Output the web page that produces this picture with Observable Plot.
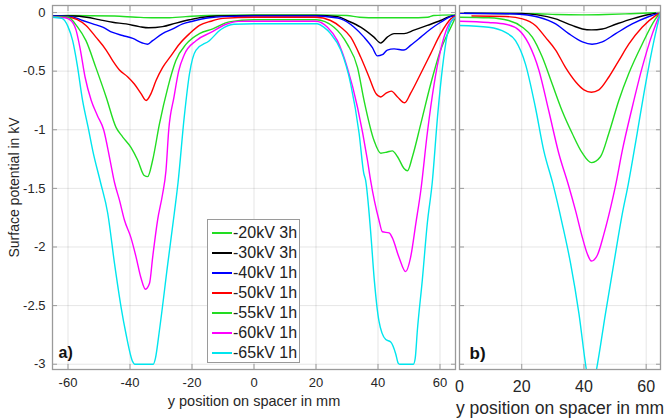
<!DOCTYPE html>
<html><head><meta charset="utf-8">
<script src="https://cdn.jsdelivr.net/npm/d3@7"></script>
<script src="https://cdn.jsdelivr.net/npm/@observablehq/plot@0.6"></script>
<style>
html,body{margin:0;padding:0;background:#fff;overflow:hidden;}
#wrap{position:relative;width:664px;height:419px;overflow:hidden;font-family:"Liberation Sans",Arial,sans-serif;}
#wrap svg{position:absolute;top:0;overflow:visible;}
#legend{position:absolute;left:207px;top:219px;width:93px;height:144px;box-sizing:border-box;border:1px solid #9a9a9a;background:#fff;}
.lrow{position:absolute;left:0;height:18px;line-height:18px;font-size:16px;color:#222;white-space:nowrap;}
.lsw{position:absolute;left:4px;top:8px;width:20px;height:1.6px;}
.ltx{position:absolute;left:25px;top:0;}
</style></head><body><div id="wrap"></div><script>
// ---- data ----
const seriesNames = ["-20kV 3h", "-30kV 3h", "-40kV 1h", "-50kV 1h", "-55kV 1h", "-60kV 1h", "-65kV 1h"];
const seriesColors = ["#22dd22", "#000000", "#0000ff", "#ff0000", "#22dd22", "#ff00ff", "#00e5ee"];
const panelLabels = ["a)", "b)"];
const yTicks = [-3, -2.5, -2, -1.5, -1, -0.5, 0];
const xTicksA = [-60, -40, -20, 0, 20, 40, 60];
const xTicksB = [0, 20, 40, 60];
const xLabel = "y position on spacer in mm";
const yLabel = "Surface potential in kV";

// panel a) measured (y position mm, potential kV)
const a20 = [[-65,-0.03],[-60,-0.025],[-45,-0.03],[-38,-0.04],[-33,-0.045],[-28,-0.045],[-22,-0.035],[-15,-0.025],[0,-0.02],[20,-0.02],[30,-0.025],[34,-0.04],[40,-0.045],[50,-0.045],[56,-0.04],[58,-0.025],[65,-0.02]];
const a30 = [[-65,-0.03],[-58,-0.03],[-54,-0.04],[-50,-0.06],[-45.6,-0.083],[-41.3,-0.097],[-37,-0.12],[-34,-0.13],[-29.5,-0.12],[-25.2,-0.09],[-20.8,-0.062],[-16.5,-0.04],[-12,-0.03],[0,-0.025],[20,-0.025],[27,-0.035],[30,-0.068],[34.4,-0.125],[38.7,-0.21],[40.9,-0.26],[43,-0.21],[45.2,-0.18],[48.4,-0.18],[51.6,-0.15],[55.9,-0.11],[60.2,-0.068],[63,-0.035],[65,-0.025]];
const a40 = [[-65,-0.03],[-59,-0.035],[-55.3,-0.068],[-52,-0.097],[-48.8,-0.125],[-45.6,-0.17],[-42.4,-0.196],[-39.1,-0.22],[-36,-0.26],[-34.3,-0.27],[-32.7,-0.24],[-29.5,-0.18],[-26.2,-0.14],[-23,-0.097],[-19.8,-0.074],[-14.4,-0.045],[-10,-0.035],[0,-0.03],[20,-0.03],[25,-0.04],[28,-0.054],[32.3,-0.125],[35.5,-0.21],[38.2,-0.30],[39.8,-0.37],[41.4,-0.36],[43,-0.32],[45.2,-0.31],[48.4,-0.32],[50.5,-0.28],[53.8,-0.21],[57,-0.14],[60.2,-0.083],[63,-0.04],[65,-0.025]];
const a50 = [[-65,-0.035],[-60,-0.04],[-57,-0.06],[-54.2,-0.11],[-51,-0.21],[-47.7,-0.32],[-45.6,-0.41],[-43.4,-0.49],[-40.7,-0.55],[-38.6,-0.61],[-36.5,-0.69],[-34.8,-0.75],[-33.2,-0.69],[-31.6,-0.58],[-29.5,-0.47],[-26.8,-0.37],[-24.1,-0.27],[-20.8,-0.18],[-17.6,-0.11],[-13.9,-0.074],[-10,-0.05],[0,-0.04],[20,-0.04],[24.7,-0.068],[28,-0.125],[31.2,-0.21],[34.4,-0.38],[37.1,-0.55],[39.3,-0.69],[40.9,-0.72],[42.5,-0.69],[44.3,-0.67],[46.3,-0.72],[48.6,-0.77],[50.5,-0.69],[53.8,-0.52],[57,-0.35],[60.2,-0.18],[63.5,-0.054],[65,-0.03]];
const a55 = [[-65,-0.035],[-60,-0.04],[-57,-0.12],[-54.2,-0.24],[-51,-0.47],[-47.7,-0.72],[-44.5,-0.98],[-42.4,-1.06],[-39.7,-1.15],[-37.5,-1.26],[-35.4,-1.39],[-34.3,-1.40],[-32.7,-1.26],[-30.5,-0.95],[-27.8,-0.64],[-25.2,-0.41],[-21.9,-0.27],[-17.6,-0.18],[-13.3,-0.14],[-8,-0.08],[0,-0.062],[20,-0.062],[25.8,-0.125],[30.1,-0.27],[33.4,-0.47],[35.5,-0.75],[38.7,-1.09],[40.9,-1.20],[43,-1.19],[44.6,-1.18],[46.3,-1.23],[48.4,-1.33],[49.5,-1.35],[51.1,-1.23],[53.8,-0.95],[57,-0.61],[60.2,-0.32],[63.5,-0.125],[65,-0.04]];
const a60 = [[-65,-0.04],[-61,-0.045],[-59,-0.07],[-57.4,-0.15],[-56,-0.32],[-54.5,-0.55],[-52.5,-0.75],[-50.5,-0.88],[-48.5,-1.0],[-46.5,-1.25],[-45,-1.45],[-43.4,-1.60],[-41.8,-1.77],[-39.7,-1.92],[-38,-2.09],[-36.5,-2.26],[-35,-2.36],[-33.7,-2.31],[-32.7,-2.09],[-31.1,-1.77],[-29.5,-1.55],[-28.4,-1.35],[-27.5,-1.0],[-25.8,-0.72],[-24.3,-0.5],[-22.5,-0.36],[-18.7,-0.24],[-13.9,-0.17],[-9,-0.1],[-5,-0.075],[0,-0.074],[20,-0.074],[23.7,-0.125],[26.9,-0.24],[30.1,-0.47],[33.4,-0.81],[36.6,-1.26],[37.6,-1.43],[40.3,-1.77],[41.4,-1.87],[43.6,-1.88],[44.6,-1.92],[46.8,-2.09],[48.9,-2.21],[50.5,-2.09],[52.2,-1.80],[53.8,-1.52],[55.9,-1.03],[58.1,-0.61],[60.2,-0.32],[62.4,-0.125],[65,-0.04]];
const a65 = [[-65,-0.04],[-62,-0.05],[-60,-0.12],[-58.5,-0.24],[-57,-0.45],[-55.3,-0.75],[-53.5,-0.98],[-52,-1.18],[-49.5,-1.45],[-47.2,-1.71],[-45,-2.14],[-42.9,-2.51],[-41.3,-2.74],[-39.1,-2.98],[-38.5,-3.0],[-32.5,-3.0],[-31.8,-2.95],[-30.5,-2.71],[-27.8,-2.14],[-25.7,-1.71],[-24.5,-1.45],[-22.5,-0.89],[-20.8,-0.52],[-18.7,-0.32],[-14.4,-0.24],[-10.7,-0.145],[-6.5,-0.10],[0,-0.096],[20.4,-0.096],[22.5,-0.125],[24.7,-0.18],[28,-0.32],[31.2,-0.61],[33.9,-1.03],[35.4,-1.37],[36,-1.43],[37.6,-1.86],[38.8,-2.28],[40.3,-2.63],[42.5,-2.79],[44.1,-2.81],[45.7,-2.91],[46.5,-2.99],[47,-3.0],[51.4,-3.0],[52,-2.95],[52.7,-2.71],[54.3,-2.28],[55.9,-1.80],[57.5,-1.45],[59.2,-0.89],[60.8,-0.47],[62.4,-0.18],[64,-0.06],[65,-0.04]];

// panel b) simulated (y position mm, potential kV)
const b20 = [[0,-0.006],[25,-0.01],[31,-0.017],[40,-0.02],[47,-0.017],[55,-0.01],[64.6,0]];
const b30 = [[0,-0.006],[20,-0.008],[25,-0.02],[30.9,-0.054],[36.2,-0.11],[39.5,-0.14],[42.4,-0.148],[45.9,-0.14],[50.2,-0.10],[55.5,-0.054],[60.9,-0.017],[64.6,0]];
const b40 = [[0,-0.006],[15,-0.01],[20.2,-0.017],[25.5,-0.04],[30.9,-0.097],[35.1,-0.18],[39.5,-0.25],[42.6,-0.27],[45.9,-0.25],[50.2,-0.18],[55.5,-0.097],[60.9,-0.034],[64.6,0]];
const b50 = [[4,-0.03],[14.8,-0.034],[20.2,-0.054],[24.4,-0.11],[27.6,-0.21],[30.9,-0.32],[34.1,-0.47],[37.3,-0.59],[40,-0.66],[42.4,-0.68],[44.8,-0.66],[48,-0.55],[51.2,-0.41],[54.4,-0.27],[58.7,-0.125],[63,-0.026],[64.6,0]];
const b55 = [[0,-0.04],[9.4,-0.045],[15.8,-0.068],[20.2,-0.125],[23.4,-0.21],[26.6,-0.38],[29.8,-0.61],[33,-0.84],[36.2,-1.03],[39.5,-1.20],[42.4,-1.28],[45.3,-1.23],[48,-1.03],[51.2,-0.75],[54.4,-0.52],[58.7,-0.27],[63,-0.054],[64.6,0]];
const b60 = [[0,-0.074],[9.4,-0.085],[14.8,-0.10],[19.1,-0.15],[22.3,-0.27],[25.5,-0.49],[28.7,-0.84],[31.9,-1.20],[35.1,-1.48],[37.3,-1.69],[39.5,-1.92],[41.1,-2.06],[42.4,-2.12],[44.3,-2.07],[46.4,-1.89],[48.6,-1.66],[50.2,-1.47],[52.3,-1.18],[55.5,-0.81],[58.7,-0.47],[62,-0.18],[64.6,0]];
const b65 = [[0,-0.11],[9.4,-0.125],[14.8,-0.17],[18,-0.24],[21.2,-0.44],[24.4,-0.81],[27.1,-1.18],[30,-1.46],[33,-1.80],[35.7,-2.14],[38.4,-2.57],[40.8,-3.05],[42.4,-3.25],[44,-3.05],[46.9,-2.57],[49.6,-2.14],[52.3,-1.72],[54.2,-1.47],[57.1,-1.03],[59.8,-0.61],[62.5,-0.24],[64.6,0]];

const panelA = [a20, a30, a40, a50, a55, a60, a65];
const panelB = [b20, b30, b40, b50, b55, b60, b65];

// ---- drawing ----
const frameColor = "#9a9a9a";
const textColor = "#262626";
const font = "'Liberation Sans', Arial, sans-serif";

function panel({data, width, left, marginLeft, marginRight, domain, xTicks, showY, tickFont, labelOffset, tickPad, label, labelDx, labelDy, labelSize}) {
  const lines = data.map((s, i) => Plot.line(s, {x: d => d[0], y: d => d[1], stroke: seriesColors[i], strokeWidth: 1.4, curve: "monotone-x", clip: true}));
  const p = Plot.plot({
    width, height: 419,
    marginLeft, marginRight, marginTop: 5, marginBottom: 50,
    style: {fontFamily: font, color: textColor, background: "transparent", overflow: "visible"},
    x: {domain},
    y: {domain: [-3.045, 0.06]},
    marks: [
      Plot.gridX({ticks: xTicks, stroke: "#000", strokeOpacity: 0.1}),
      Plot.gridY({ticks: yTicks, stroke: "#000", strokeOpacity: 0.1}),
      ...lines,
      Plot.frame({stroke: frameColor, strokeWidth: 1.3}),
      Plot.axisX({ticks: xTicks, anchor: "bottom", tickSize: -5, tickPadding: tickPad, stroke: frameColor, fill: textColor, fontSize: tickFont,
        tickFormat: d => String(d), label: xLabel, labelAnchor: "center", labelArrow: "none", labelOffset}),
      Plot.axisX({ticks: xTicks, anchor: "top", tickSize: -5, stroke: frameColor, tickFormat: () => "", label: null}),
      Plot.axisY({ticks: yTicks, anchor: "left", tickSize: -5, tickPadding: 12, stroke: frameColor, fill: textColor, fontSize: tickFont,
        tickFormat: showY ? (d => String(d)) : (() => ""), label: showY ? yLabel : null, labelAnchor: "center", labelArrow: "none", labelOffset: 43}),
      Plot.axisY({ticks: yTicks, anchor: "right", tickSize: -5, stroke: frameColor, tickFormat: () => "", label: null}),
      Plot.text([label], {text: d => d, frameAnchor: "bottom-left", textAnchor: "start", lineAnchor: "middle", dx: labelDx, dy: labelDy, fontWeight: "bold", fontSize: labelSize, fill: "#111"})
    ]
  });
  p.style.left = left + "px";
  return p;
}

const wrap = document.getElementById("wrap");
const pa = panel({data: panelA, width: 460, left: 0, marginLeft: 52, marginRight: 5, domain: [-65, 65], xTicks: xTicksA, showY: true, tickFont: 13, tickPad: 13, labelOffset: 36, label: panelLabels[0], labelDx: 6, labelDy: -17, labelSize: 16});
wrap.appendChild(pa);
const pb = panel({data: panelB, width: 209, left: 455, marginLeft: 4, marginRight: 4, domain: [0, 64.6], xTicks: xTicksB, showY: false, tickFont: 16, tickPad: 16, labelOffset: 44, label: panelLabels[1], labelDx: 10, labelDy: -16, labelSize: 17});
wrap.appendChild(pb);
// axis title sizes
pb.querySelectorAll("g[aria-label='x-axis label'] text").forEach(t => t.setAttribute("font-size", 17.5));
pa.querySelectorAll("g[aria-label='x-axis label'] text").forEach(t => t.setAttribute("font-size", 14.5));
pa.querySelectorAll("g[aria-label='y-axis label'] text").forEach(t => t.setAttribute("font-size", 14));

// legend (HTML, above plots)
const lg = document.createElement("div");
lg.id = "legend";
seriesNames.forEach((n, i) => {
  const r = document.createElement("div");
  r.className = "lrow";
  r.style.top = (4 + 20 * i) + "px";
  r.innerHTML = `<span class="lsw" style="background:${seriesColors[i]}"></span><span class="ltx">${n}</span>`;
  lg.appendChild(r);
});
wrap.appendChild(lg);
</script></body></html>
